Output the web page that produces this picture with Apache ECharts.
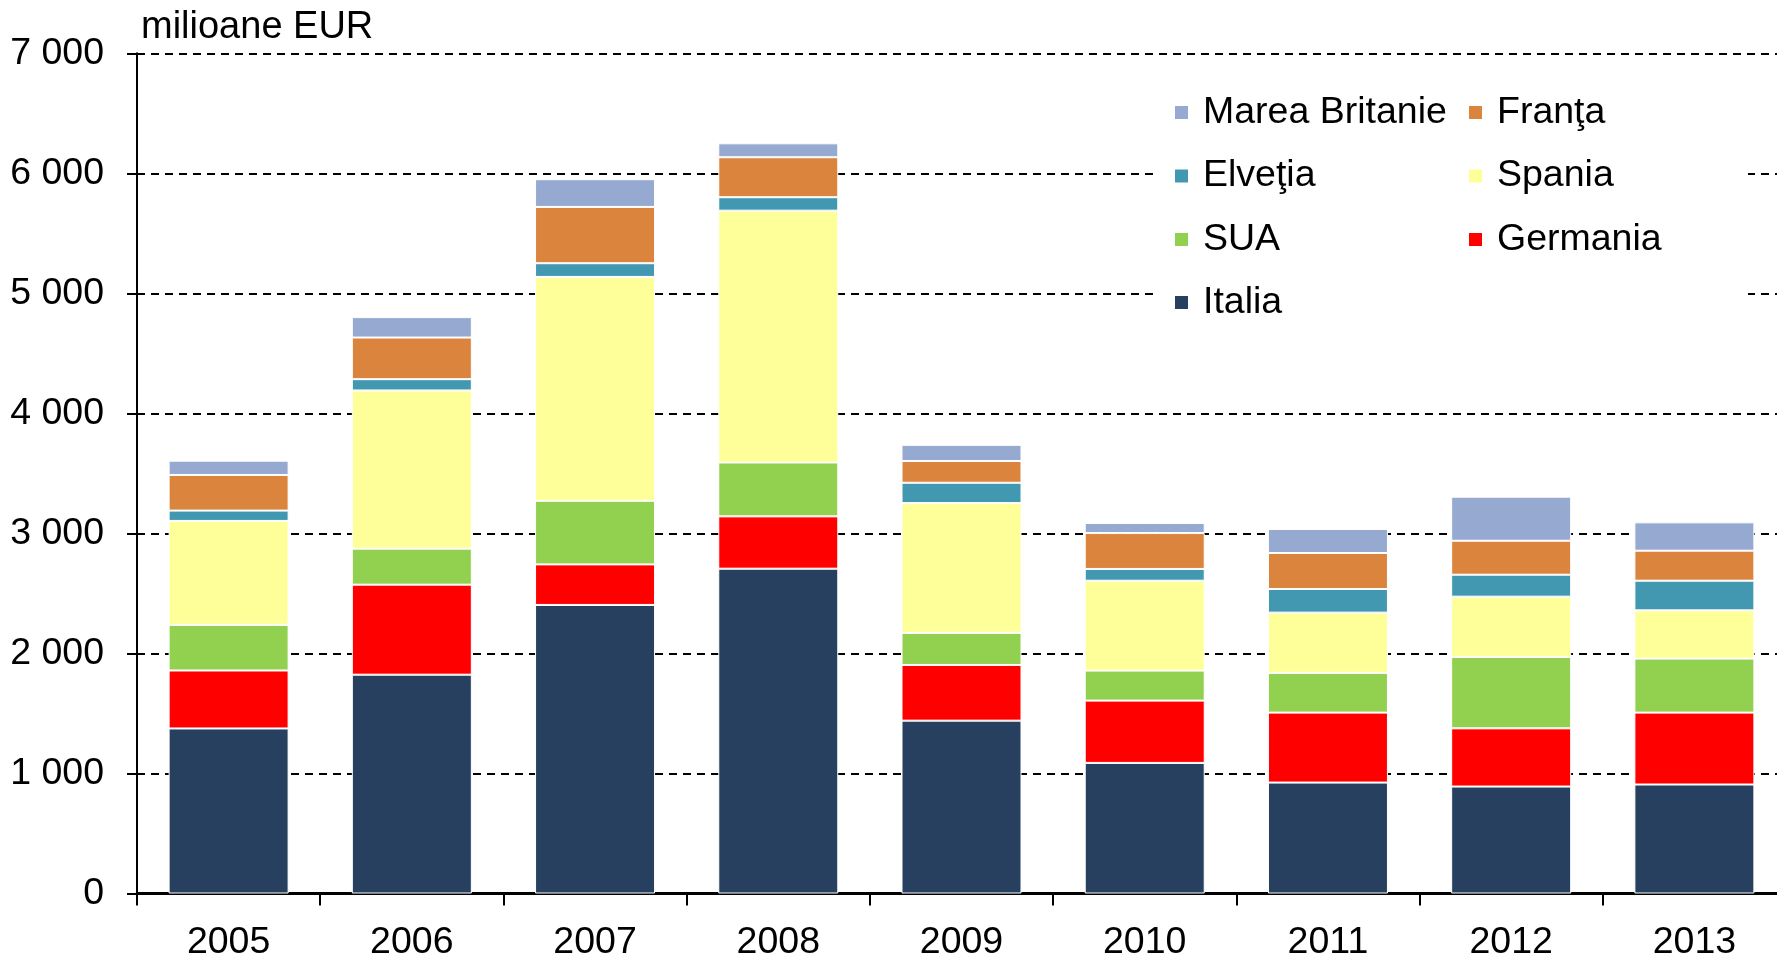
<!DOCTYPE html>
<html>
<head>
<meta charset="utf-8">
<script src="https://cdn.jsdelivr.net/npm/echarts@6.0.0/dist/echarts.min.js"></script>
<style>
  html, body { margin: 0; padding: 0; background: #fff; overflow: hidden; }
  #chart { width: 1786px; height: 958px; }
</style>
</head>
<body>
<div id="chart"></div>
<script>
  // values, milioane EUR
  const years = ['2005', '2006', '2007', '2008', '2009', '2010', '2011', '2012', '2013'];

  const italia   = [1375, 1823, 2404, 2706, 1440, 1088, 924, 891, 908];
  const germania = [483, 750, 338, 436, 464, 519, 583, 485, 599];
  const sua      = [380, 300, 530, 449, 267, 250, 331, 595, 450];
  const spania   = [866, 1318, 1865, 2098, 1082, 749, 502, 502, 402];
  const elvetia  = [86, 94, 114, 112, 169, 98, 197, 183, 247];
  const franta   = [297, 347, 469, 333, 181, 299, 300, 283, 250];
  const mareaBr  = [119, 170, 231, 116, 135, 84, 200, 367, 236];

  const yTicks = [0, 1000, 2000, 3000, 4000, 5000, 6000, 7000];

  /* stacking order bottom -> top */
  const seriesDefs = [
    { name: 'Italia',         data: italia,   color: '#27405F' },
    { name: 'Germania',       data: germania, color: '#FF0000' },
    { name: 'SUA',            data: sua,      color: '#92D050' },
    { name: 'Spania',         data: spania,   color: '#FFFF99' },
    { name: 'Elveţia',        data: elvetia,  color: '#4298B0' },
    { name: 'Franţa',         data: franta,   color: '#DB843D' },
    { name: 'Marea Britanie', data: mareaBr,  color: '#95A9D1' }
  ];

  /* legend grid as in the original: 2 columns, filled row by row */
  const legendRows = [
    ['Marea Britanie', 'Franţa'],
    ['Elveţia', 'Spania'],
    ['SUA', 'Germania'],
    ['Italia']
  ];

  const FONT = "'Liberation Sans', Arial, sans-serif";
  const colX = [1173, 1467];
  const rowY = [112, 175.5, 239, 302];

  const legends = [];
  legendRows.forEach((row, r) => {
    row.forEach((name, c) => {
      legends.push({
        data: [name],
        left: colX[c],
        top: rowY[r] - 18.5,
        padding: 0,
        icon: 'rect',
        itemWidth: 15,
        itemHeight: 15,
        selectedMode: false,
        textStyle: { fontFamily: FONT, fontSize: 37.5, color: '#000', padding: [0, 0, 0, 9] }
      });
    });
  });

  const chart = echarts.init(document.getElementById('chart'), null, { renderer: 'canvas' });

  chart.setOption({
    animation: false,
    backgroundColor: '#fff',
    textStyle: { fontFamily: FONT },
    title: {
      text: 'milioane EUR',
      left: 141,
      top: 9,
      padding: 0,
      textStyle: { fontFamily: FONT, fontSize: 38, fontWeight: 'normal', color: '#000' }
    },
    legend: legends,
    graphic: [{
      type: 'rect',
      z: 1,
      shape: { x: 1154, y: 72, width: 594, height: 256 },
      style: { fill: '#fff' }
    }],
    grid: { left: 137, right: 0, top: 53.3, bottom: 64.5, containLabel: false, outerBoundsMode: 'none' },
    xAxis: {
      type: 'category',
      data: years,
      boundaryGap: true,
      axisLine: { lineStyle: { color: '#000', width: 3 } },
      axisTick: { show: true, length: 12, interval: 0, lineStyle: { color: '#000', width: 2 } },
      axisLabel: { fontFamily: FONT, fontSize: 37.5, color: '#000', margin: 30, interval: 0 },
      splitLine: { show: false }
    },
    yAxis: {
      type: 'value',
      min: yTicks[0],
      max: yTicks[yTicks.length - 1],
      interval: 1000,
      axisLine: { show: true, lineStyle: { color: '#000', width: 2 } },
      axisTick: { show: true, length: 10, lineStyle: { color: '#000', width: 2 } },
      axisLabel: {
        fontFamily: FONT, fontSize: 37.5, color: '#000', margin: 33,
        formatter: v => String(v).replace(/\B(?=(\d{3})+(?!\d))/g, ' ')
      },
      splitLine: { show: true, lineStyle: { color: '#000', width: 2, type: [8, 6] } }
    },
    series: seriesDefs.map(s => ({
      name: s.name,
      type: 'bar',
      stack: 'total',
      barWidth: 120,
      data: s.data,
      itemStyle: { color: s.color, borderColor: '#fff', borderWidth: 1 }
    }))
  });
</script>
</body>
</html>
